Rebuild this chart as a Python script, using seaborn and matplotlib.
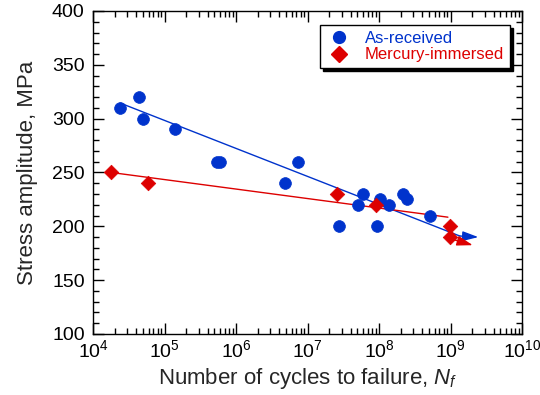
import numpy as np
import pandas as pd
import matplotlib
matplotlib.use("Agg")
import matplotlib.pyplot as plt
import seaborn as sns
from matplotlib.ticker import LogLocator, MultipleLocator, NullFormatter
from matplotlib.lines import Line2D

# ---- data ----
as_cycles = [2.4e4, 4.4e4, 5.0e4, 1.4e5, 5.5e5, 5.9e5, 4.8e6, 7.4e6,
             2.8e7, 5.1e7, 6.0e7, 9.4e7, 1.03e8, 1.38e8, 2.2e8, 2.5e8, 5.2e8]
as_stress = [310, 320, 300, 290, 260, 260, 240, 260,
             200, 220, 230, 200, 225, 220, 230, 225, 210]

hg_cycles = [1.8e4, 5.9e4, 2.6e7, 9.1e7, 9.8e8, 9.8e8]
hg_stress = [250, 240, 230, 220, 200, 190]

# fitted lines (endpoints)
as_fit_x = [2.4e4, 1.35e9]
as_fit_y = [314.5, 191.0]
as_arrow_x = [1.35e9, 2.45e9]
as_arrow_y = [191.0, 190.0]

hg_fit_x = [1.8e4, 9.2e8]
hg_fit_y = [250.0, 208.5]
hg_arrow_x = [1.12e9, 2.05e9]
hg_arrow_y = [187.5, 182.5]

xlim = (1e4, 1e10)
ylim = (100, 400)

BLUE = "#0033cc"
RED = "#dd0000"

sns.set_theme(style="ticks")
plt.rcParams["font.family"] = ["Liberation Sans", "DejaVu Sans"]
plt.rcParams["mathtext.fontset"] = "custom"
plt.rcParams["mathtext.rm"] = "Liberation Sans"
plt.rcParams["mathtext.it"] = "Liberation Sans:italic"

fig = plt.figure(figsize=(5.4, 3.95), dpi=100)
ax = fig.add_axes([93 / 540, 1 - 334 / 395, (522 - 93) / 540, (334 - 11) / 395])

df_as = pd.DataFrame({"N": as_cycles, "S": as_stress})
df_hg = pd.DataFrame({"N": hg_cycles, "S": hg_stress})

ax.plot(as_fit_x, as_fit_y, color=BLUE, lw=1.0, zorder=2)
ax.plot(hg_fit_x, hg_fit_y, color=RED, lw=1.0, zorder=2)
arrow_style = "-|>,head_length=0.8,head_width=0.25"
ax.annotate("", xy=(as_arrow_x[1], as_arrow_y[1]), xytext=(as_arrow_x[0], as_arrow_y[0]),
            arrowprops=dict(arrowstyle=arrow_style, color=BLUE, lw=1.0,
                            shrinkA=0, shrinkB=0), zorder=4)
ax.annotate("", xy=(hg_arrow_x[1], hg_arrow_y[1]), xytext=(hg_arrow_x[0], hg_arrow_y[0]),
            arrowprops=dict(arrowstyle=arrow_style, color=RED, lw=1.0,
                            shrinkA=0, shrinkB=0), zorder=4)

sns.scatterplot(data=df_as, x="N", y="S", ax=ax, color=BLUE, marker="o", s=72,
                edgecolor=BLUE, linewidth=0.5, zorder=3, legend=False)
sns.scatterplot(data=df_hg, x="N", y="S", ax=ax, color=RED, marker="D", s=55,
                edgecolor=RED, linewidth=0.5, zorder=3, legend=False)

ax.set_xscale("log")
ax.set_xlim(*xlim)
ax.set_ylim(*ylim)
ax.xaxis.set_major_locator(LogLocator(base=10, numticks=20))
ax.xaxis.set_minor_locator(LogLocator(base=10, subs=np.arange(2, 10), numticks=100))
ax.xaxis.set_minor_formatter(NullFormatter())
ax.yaxis.set_major_locator(MultipleLocator(50))
ax.yaxis.set_minor_locator(MultipleLocator(10))

ax.tick_params(which="both", direction="in", top=True, right=True, colors="black",
               labelsize=14, width=1)
ax.tick_params(which="major", length=8)
ax.tick_params(axis="y", which="major", pad=6)
ax.tick_params(axis="x", which="major", pad=4)
ax.tick_params(which="minor", length=4)
for s in ax.spines.values():
    s.set_color("black")
    s.set_linewidth(1)

ax.set_xlabel(r"Number of cycles to failure, $N_f$", fontsize=16, labelpad=3)
ax.set_ylabel("Stress amplitude, MPa", fontsize=16, labelpad=10)

handles = [
    Line2D([], [], marker="o", color=BLUE, ls="none", markersize=8.5),
    Line2D([], [], marker="D", color=RED, ls="none", markersize=8),
]
leg = ax.legend(handles, ["As-received", "Mercury-immersed"], loc="upper right",
                bbox_to_anchor=((510 - 93) / 429, (334 - 25) / 323), borderaxespad=0,
                fontsize=12, frameon=True, fancybox=False,
                shadow={"color": "black", "alpha": 1}, handletextpad=0.75,
                labelspacing=0.1, borderpad=0.35, handlelength=1.6)
leg.get_frame().set_edgecolor("black")
leg.get_frame().set_linewidth(1)
leg.get_texts()[0].set_color(BLUE)
leg.get_texts()[1].set_color(RED)

fig.savefig("out.png", dpi=100)
